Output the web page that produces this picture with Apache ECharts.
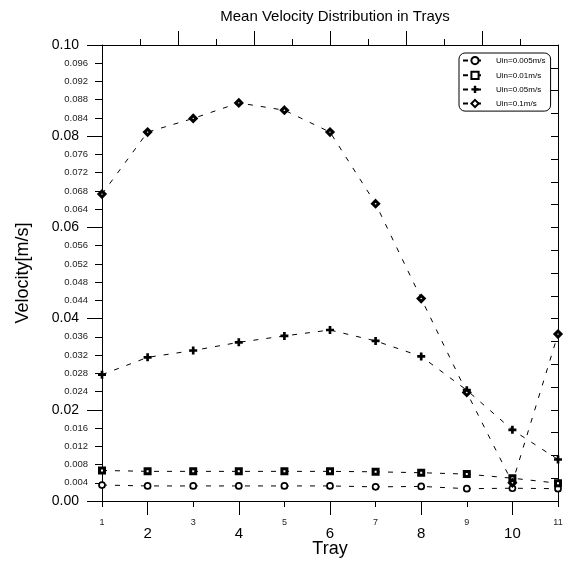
<!DOCTYPE html>
<html>
<head>
<meta charset="utf-8">
<script src="https://cdn.jsdelivr.net/npm/echarts@6.0.0/dist/echarts.min.js"></script>
<style>
html,body{margin:0;padding:0;background:#fff;}
#chart{width:569px;height:562px;}
</style>
</head>
<body>
<div id="chart"></div>
<script>
// ---- data ----
const trays = [1, 2, 3, 4, 5, 6, 7, 8, 9, 10, 11];
const u0005 = [0.0035, 0.0033, 0.0033, 0.0033, 0.0033, 0.0033, 0.0031, 0.0032, 0.0027, 0.0028, 0.0027];
const u001  = [0.0067, 0.0065, 0.0065, 0.0065, 0.0065, 0.0065, 0.0064, 0.0062, 0.0059, 0.0050, 0.0039];
const u005  = [0.0277, 0.0315, 0.0330, 0.0348, 0.0362, 0.0375, 0.0351, 0.0317, 0.0243, 0.0156, 0.0091];
const u01   = [0.0673, 0.0809, 0.0839, 0.0873, 0.0857, 0.0809, 0.0652, 0.0444, 0.0238, 0.0040, 0.0366];
const seriesNames = ['Uin=0.005m/s', 'Uin=0.01m/s', 'Uin=0.05m/s', 'Uin=0.1m/s'];
const evenTicks = [2, 4, 6, 8, 10];
const oddTicks = [1, 3, 5, 7, 9, 11];
const titleText = 'Mean Velocity Distribution in Trays';
const xName = 'Tray';
const yName = 'Velocity[m/s]';

const FONT = 'Liberation Sans, Arial, Helvetica, sans-serif';
const BLACK = '#000';
const pair = (ys) => trays.map((t, i) => [t, ys[i]]);
const plusPath = 'path://M3,0H6V3H9V6H6V9H3V6H0V3H3Z';

const chart = echarts.init(document.getElementById('chart'), null, {renderer: 'canvas'});

const baseLine = {type: [5, 8], width: 1, color: BLACK};

const option = {
  backgroundColor: '#fff',
  animation: false,
  textStyle: {fontFamily: FONT, color: BLACK},
  title: {
    text: titleText,
    left: 330, top: 4, textAlign: 'center',
    textStyle: {fontSize: 15, fontWeight: 'normal', color: BLACK, fontFamily: FONT}
  },
  grid: {left: 102, right: 11, top: 45, bottom: 61, containLabel: false, outerBoundsMode: 'none'},
  legend: {
    orient: 'vertical',
    left: 459, top: 53,
    padding: [3, 5, 3, 3],
    itemGap: 5.5,
    itemWidth: 24, itemHeight: 9,
    borderColor: BLACK, borderWidth: 1, borderRadius: 6,
    backgroundColor: '#fff',
    textStyle: {fontSize: 8, color: BLACK, fontFamily: FONT, padding: [0, 0, 0, 4]},
    data: seriesNames
  },
  xAxis: [
    {
      type: 'value', position: 'bottom', min: 1, max: 11, interval: 1,
      axisLine: {show: true, onZero: false, lineStyle: {color: BLACK, width: 1}},
      axisTick: {show: true, length: 14, customValues: evenTicks, lineStyle: {color: BLACK}},
      axisLabel: {show: true, customValues: evenTicks, fontSize: 15, margin: 25, color: BLACK, fontFamily: FONT},
      splitLine: {show: false},
      name: xName, nameLocation: 'middle', nameGap: 39, nameMoveOverlap: false,
      nameTextStyle: {fontSize: 18, color: BLACK, fontFamily: FONT}
    },
    {
      type: 'value', position: 'bottom', min: 1, max: 11, interval: 1,
      axisLine: {show: false, onZero: false},
      axisTick: {show: true, length: 6, customValues: oddTicks, lineStyle: {color: BLACK}},
      axisLabel: {show: true, customValues: oddTicks, fontSize: 9, margin: 17, color: '#222', fontFamily: FONT},
      splitLine: {show: false}
    },
    {
      type: 'value', position: 'top', min: 0, max: 12, interval: 1,
      axisLine: {show: true, onZero: false, lineStyle: {color: BLACK, width: 1}},
      axisTick: {show: true, length: 14, customValues: evenTicks, lineStyle: {color: BLACK}},
      axisLabel: {show: false},
      splitLine: {show: false}
    },
    {
      type: 'value', position: 'top', min: 0, max: 12, interval: 1,
      axisLine: {show: false, onZero: false},
      axisTick: {show: true, length: 6, customValues: oddTicks, lineStyle: {color: BLACK}},
      axisLabel: {show: false},
      splitLine: {show: false}
    }
  ],
  yAxis: [
    {
      type: 'value', position: 'left', min: 0, max: 0.1, interval: 0.02,
      axisLine: {show: true, onZero: false, lineStyle: {color: BLACK, width: 1}},
      axisTick: {show: true, length: 15, lineStyle: {color: BLACK}},
      axisLabel: {fontSize: 14, margin: 23, color: BLACK, fontFamily: FONT,
        formatter: (v) => v.toFixed(2)},
      splitLine: {show: false},
      name: yName, nameLocation: 'middle', nameGap: 70, nameRotate: 90, nameMoveOverlap: false,
      nameTextStyle: {fontSize: 18, color: BLACK, fontFamily: FONT}
    },
    {
      type: 'value', position: 'left', min: 0, max: 0.1, interval: 0.004,
      axisLine: {show: false, onZero: false},
      axisTick: {show: true, length: 7, lineStyle: {color: BLACK}},
      axisLabel: {fontSize: 9.5, margin: 14, color: '#222', fontFamily: FONT,
        formatter: (v) => {
          const k = Math.round(v * 1000);
          if (k % 20 === 0) return '';
          return (k / 1000).toFixed(3);
        }},
      splitLine: {show: false}
    },
    {
      type: 'value', position: 'right', min: 0, max: 0.1, interval: 0.005,
      axisLine: {show: true, onZero: false, lineStyle: {color: BLACK, width: 1}},
      axisTick: {show: true, inside: true, length: 7, lineStyle: {color: BLACK}},
      axisLabel: {show: false},
      splitLine: {show: false}
    }
  ],
  series: [
    {
      name: seriesNames[0], type: 'line', data: pair(u0005),
      symbol: 'circle', symbolSize: 6,
      itemStyle: {color: '#fff', borderColor: BLACK, borderWidth: 1.7},
      lineStyle: baseLine, z: 3
    },
    {
      name: seriesNames[1], type: 'line', data: pair(u001),
      symbol: 'rect', symbolSize: 5,
      itemStyle: {color: '#fff', borderColor: BLACK, borderWidth: 3},
      lineStyle: baseLine, z: 3
    },
    {
      name: seriesNames[2], type: 'line', data: pair(u005),
      symbol: plusPath, symbolSize: 8,
      itemStyle: {color: BLACK, borderWidth: 0},
      lineStyle: baseLine, z: 3
    },
    {
      name: seriesNames[3], type: 'line', data: pair(u01),
      symbol: 'diamond', symbolSize: 6,
      itemStyle: {color: '#fff', borderColor: BLACK, borderWidth: 3},
      lineStyle: baseLine, z: 3
    }
  ]
};
chart.setOption(option);
</script>
</body>
</html>
